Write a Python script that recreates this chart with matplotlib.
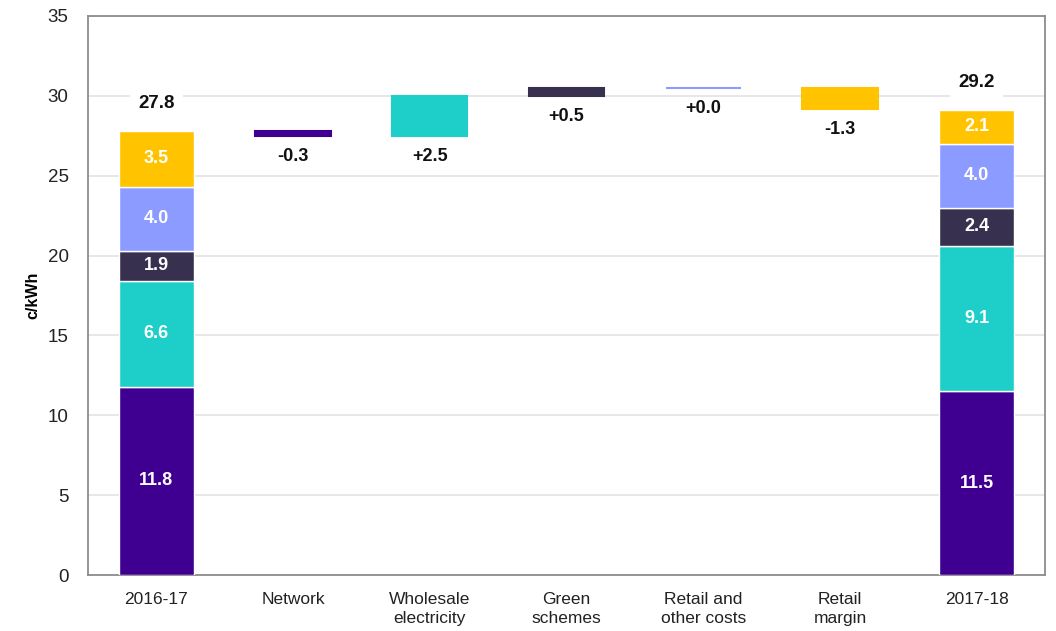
import matplotlib
matplotlib.use("Agg")
import matplotlib.pyplot as plt
import numpy as np

plt.rcParams['font.family'] = ['Liberation Sans', 'DejaVu Sans']

categories = ["2016-17", "Network", "Wholesale\nelectricity", "Green\nschemes",
              "Retail and\nother costs", "Retail\nmargin", "2017-18"]
components = ["Network", "Wholesale electricity", "Green schemes", "Retail and other costs", "Retail margin"]
colors = ["#3F0092", "#1ECFC9", "#37304F", "#8C9BFF", "#FFC300"]

stack_2016 = [11.8, 6.6, 1.9, 4.0, 3.5]
stack_2017 = [11.5, 9.1, 2.4, 4.0, 2.1]
totals = [27.8, 29.2]
deltas = [-0.3, 2.5, 0.5, 0.0, -1.3]

fig = plt.figure(figsize=(10.56, 6.31), dpi=100)
ax = fig.add_axes([0.0833, 0.0887, 0.9063, 0.886])

w = 0.55
x = np.arange(len(categories))

ax.set_axisbelow(True)
ax.yaxis.grid(True, color="#E3E3E3", linewidth=1.2)

def draw_stack(xpos, vals, total):
    bottom = 0.0
    for v, c in zip(vals, colors):
        ax.bar(xpos, v, w, bottom=bottom, color=c, edgecolor="white", linewidth=1.0, zorder=3)
        ax.text(xpos, bottom + v / 2, f"{v:.1f}", ha="center", va="center",
                color="white", fontsize=13, fontweight="bold", zorder=4)
        bottom += v
    ax.annotate(f"{total:.1f}", (xpos, bottom), xytext=(0, 20), textcoords="offset points",
                ha="center", va="center", fontsize=13.5, fontweight="bold", color="#111111",
                bbox=dict(boxstyle="square,pad=0.45", fc="white", ec="none"), zorder=4)

draw_stack(x[0], stack_2016, totals[0])

level = totals[0]
for i, d in enumerate(deltas):
    xpos = x[i + 1]
    lo = min(level, level + d)
    ax.bar(xpos, abs(d), w, bottom=lo, color=colors[i], edgecolor=colors[i],
           linewidth=1.5, zorder=3)
    ax.annotate(f"{d:+.1f}" if d >= 0 else f"{d:.1f}", (xpos, lo), xytext=(0, -15),
                textcoords="offset points", ha="center", va="center",
                fontsize=13, fontweight="bold", color="#111111", zorder=4)
    level += d

draw_stack(x[6], stack_2017, totals[1])

ax.set_xlim(-0.5, 6.5)
ax.set_ylim(0, 35)
ax.set_yticks(np.arange(0, 36, 5))
ax.set_xticks(x)
ax.set_xticklabels(categories, fontsize=12.5, color="#222222", linespacing=1.35)
ax.tick_params(axis="y", length=0, pad=14, labelsize=13.5, labelcolor="#222222")
ax.tick_params(axis="x", length=0, pad=12)
for s in ax.spines.values():
    s.set_color("#8C8C8C")
    s.set_linewidth(1.3)
ax.set_ylabel("c/kWh", fontsize=11.5, fontweight="bold", labelpad=5)

fig.savefig("out.png", dpi=100)
